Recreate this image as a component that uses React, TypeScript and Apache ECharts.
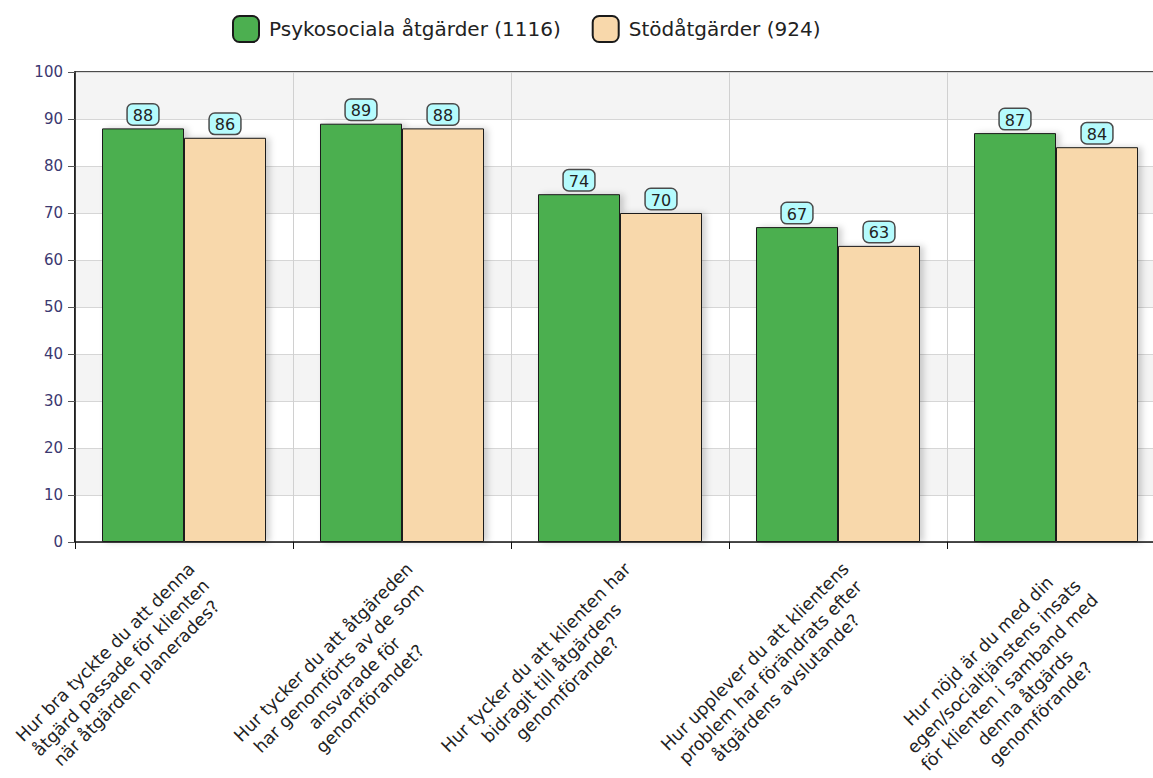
import React, { useEffect, useRef } from "react";
import * as echarts from "echarts";

const categories = [
  "Hur bra tyckte du att denna\nåtgärd passade för klienten\nnär åtgärden planerades?",
  "Hur tycker du att åtgäreden\nhar genomförts av de som\nansvarade för\ngenomförandet?",
  "Hur tycker du att klienten har\nbidragit till åtgärdens\ngenomförande?",
  "Hur upplever du att klientens\nproblem har förändrats efter\nåtgärdens avslutande?",
  "Hur nöjd är du med din\negen/socialtjänstens insats\nför klienten i samband med\ndenna åtgärds\ngenomförande?",
];
const seriesNames = ["Psykosociala åtgärder (1116)", "Stödåtgärder (924)"];
const psykosociala = [88, 89, 74, 67, 87];
const stod = [86, 88, 70, 63, 84];
const yTicks = [0, 10, 20, 30, 40, 50, 60, 70, 80, 90, 100];

const FONT = "DejaVu Sans";

export default function App() {
  const ref = useRef<HTMLDivElement>(null);
  useEffect(() => {
    document.body.style.margin = "0";
    if (!ref.current) return;
    const chart = echarts.init(ref.current, undefined, { renderer: "svg" });
    const labelCfg = {
      show: true,
      position: "top",
      distance: 4,
      fontFamily: FONT,
      fontSize: 16,
      color: "#222",
      backgroundColor: "#b5fbfd",
      borderColor: "#4a4a4a",
      borderWidth: 1.5,
      borderRadius: 5,
      padding: [3, 5, 1, 5],
    };
    const itemBase = {
      borderColor: "#1a1a1a",
      borderWidth: 1,
      shadowColor: "rgba(0,0,0,0.18)",
      shadowBlur: 6,
      shadowOffsetX: 4,
      shadowOffsetY: 0,
    };
    chart.setOption({
      animation: false,
      textStyle: { fontFamily: FONT },
      legend: {
        top: 15,
        left: 232,
        padding: 0,
        itemWidth: 26,
        itemHeight: 26,
        itemGap: 31,
        textStyle: { fontFamily: FONT, fontSize: 20, color: "#222", padding: [0, 0, 0, 5] },
        data: seriesNames,
      },
      grid: {
        left: 75,
        top: 72,
        right: 0,
        bottom: 236,
        outerBoundsMode: "none",
        containLabel: false,
        show: true,
        borderColor: "#111",
        borderWidth: 1.5,
        backgroundColor: "transparent",
      },
      xAxis: {
        type: "category",
        data: categories,
        axisLine: { lineStyle: { color: "#111", width: 1.5 } },
        axisTick: { show: true, length: 7, lineStyle: { color: "#111" } },
        splitLine: { show: true, lineStyle: { color: "#d0d0d0", width: 1 } },
        axisLabel: {
          rotate: 45,
          interval: 0,
          margin: 16,
          verticalAlign: "top",
          fontFamily: FONT,
          fontSize: 17.5,
          lineHeight: 22,
          color: "#222",
          formatter: (v: string) =>
            v
              .split("\n")
              .map((s) => "{c|" + s + "}")
              .join("\n"),
          rich: {
            c: { align: "center", fontFamily: FONT, fontSize: 17.5, lineHeight: 22, color: "#222" },
          },
        },
      },
      yAxis: {
        type: "value",
        min: 0,
        max: 100,
        interval: 10,
        axisLine: { show: true, lineStyle: { color: "#111", width: 1.5 } },
        axisTick: { show: true, length: 7, lineStyle: { color: "#555" } },
        axisLabel: {
          margin: 12,
          fontFamily: FONT,
          fontSize: 15,
          color: "#3b3870",
          padding: [0, 0, 8, 0],
          formatter: (v: number) => (yTicks.includes(v) ? String(v) : ""),
        },
        splitLine: { show: true, lineStyle: { color: "#d6d6d6", width: 1 } },
        splitArea: { show: true, areaStyle: { color: ["#ffffff", "#f4f4f4"] } },
      },
      series: [
        {
          name: seriesNames[0],
          type: "bar",
          data: psykosociala,
          barWidth: 82,
          barGap: "0%",
          itemStyle: { ...itemBase, color: "#4caf50" },
          label: labelCfg,
        },
        {
          name: seriesNames[1],
          type: "bar",
          data: stod,
          barWidth: 82,
          barGap: "0%",
          itemStyle: { ...itemBase, color: "#f8d8ab" },
          label: labelCfg,
        },
      ],
    });
    return () => chart.dispose();
  }, []);
  return (
    <div style={{ width: 1153, height: 778, overflow: "hidden", position: "relative" }}>
      <div ref={ref} style={{ width: 1165, height: 778 }} />
    </div>
  );
}
